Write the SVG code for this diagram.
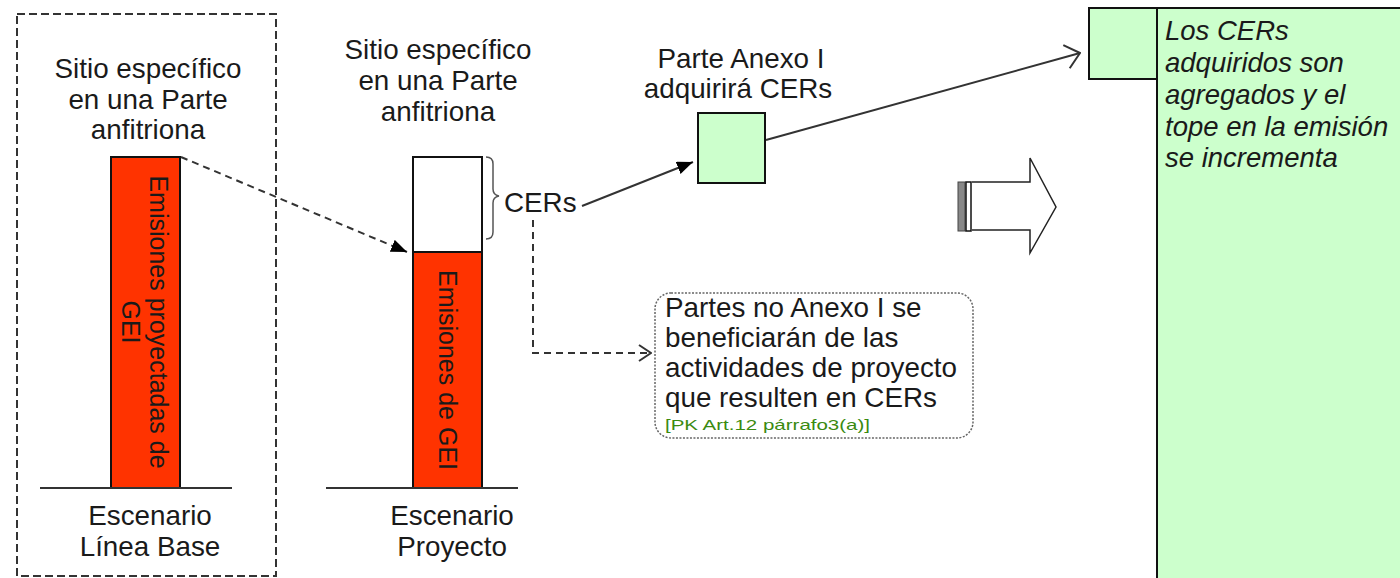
<svg xmlns="http://www.w3.org/2000/svg" width="1400" height="578" viewBox="0 0 1400 578">
<style>
text{font-family:"Liberation Sans",Arial,sans-serif;fill:#1a1a1a}
.big{font-size:27.8px}
.mid{text-anchor:middle}
.vert{font-size:25px;text-anchor:middle}
.red{fill:#ff3300;stroke:#111;stroke-width:2}
.green{fill:#ccffcc;stroke:#111;stroke-width:2}
.base{stroke:#333;stroke-width:2}
.dash{fill:none;stroke:#333;stroke-width:2;stroke-dasharray:7,5}
.solid{fill:none;stroke:#333;stroke-width:2}
.ital{font-size:27.5px;font-style:italic}
</style>
<defs>
<marker id="ahFill" viewBox="0 0 16 13" refX="16" refY="6.5" markerWidth="16" markerHeight="13" markerUnits="userSpaceOnUse" orient="auto"><path d="M0,0 L16,6.5 L0,13 Z" fill="#000"/></marker>
<marker id="ahOpen" viewBox="0 0 16 26" refX="15" refY="13" markerWidth="16" markerHeight="26" markerUnits="userSpaceOnUse" orient="auto"><path d="M1,1 L15,13 L1,25" fill="none" stroke="#333" stroke-width="2"/></marker>
<marker id="ahOpenS" viewBox="0 0 14 18" refX="13" refY="9" markerWidth="14" markerHeight="18" markerUnits="userSpaceOnUse" orient="auto"><path d="M1,1 L13,9 L1,17" fill="none" stroke="#333" stroke-width="2"/></marker>
</defs>

<g id="baseline-scenario">
<rect x="17" y="14" width="259" height="562" fill="none" stroke="#333" stroke-width="2" stroke-dasharray="8,4"/>
<text class="big mid" x="148" y="78">Sitio específico</text>
<text class="big mid" x="148" y="109">en una Parte</text>
<text class="big mid" x="148" y="139">anfitriona</text>
<rect class="red" x="111" y="157" width="69" height="331"/>
<g transform="translate(145,322) rotate(90)">
<text class="vert" x="0" y="-5">Emisiones proyectadas de</text>
<text class="vert" x="0" y="23">GEI</text>
</g>
<line class="base" x1="40" y1="488" x2="232" y2="488"/>
<text class="big mid" x="150" y="525">Escenario</text>
<text class="big mid" x="150" y="556">Línea Base</text>
</g>

<g id="project-scenario">
<text class="big mid" x="438" y="59">Sitio específico</text>
<text class="big mid" x="438" y="90">en una Parte</text>
<text class="big mid" x="438" y="121">anfitriona</text>
<rect x="413" y="157" width="69" height="95" fill="#fff" stroke="#111" stroke-width="2"/>
<rect class="red" x="413" y="252" width="69" height="236"/>
<g transform="translate(439,370) rotate(90)">
<text class="vert" x="0" y="0">Emisiones de GEI</text>
</g>
<line class="base" x1="326" y1="488" x2="518" y2="488"/>
<text class="big mid" x="452" y="525">Escenario</text>
<text class="big mid" x="452" y="556">Proyecto</text>
<path d="M486,157 Q493,157 493,164 L493,189 Q493,195 499,196 Q493,197 493,203 L493,232 Q493,239 486,239" fill="none" stroke="#555" stroke-width="1.5"/>
<text class="big" x="504" y="212">CERs</text>
</g>

<g id="annex-party">
<text class="big mid" x="741" y="68">Parte Anexo I</text>
<text class="big mid" x="738" y="98">adquirirá CERs</text>
<rect class="green" x="698" y="113" width="67" height="70"/>
</g>

<g id="non-annex-note">
<rect x="655" y="293" width="318" height="145" rx="16" ry="16" fill="none" stroke="#666" stroke-width="1.5" stroke-dasharray="2,1.5"/>
<text class="big" x="665" y="317">Partes no Anexo I se</text>
<text class="big" x="665" y="347">beneficiarán de las</text>
<text class="big" x="665" y="377">actividades de proyecto</text>
<text class="big" x="665" y="407">que resulten en CERs</text>
<text x="665" y="430" style="font-size:15px;fill:#3a8a10" textLength="205" lengthAdjust="spacingAndGlyphs">[PK Art.12 párrafo3(a)]</text>
</g>

<g id="block-arrow">
<rect x="958" y="182" width="7" height="49" fill="#888" stroke="#444" stroke-width="1"/>
<rect x="966" y="182" width="5" height="49" fill="#fff" stroke="#111" stroke-width="1.5"/>
<path d="M972,182 H1030 V158 L1056,207 L1030,253 V230 H972" fill="#fff" stroke="#222" stroke-width="1.5"/>
</g>

<g id="aggregated-box">
<rect class="green" x="1089" y="8" width="68" height="71"/>
<rect class="green" x="1157" y="8" width="260" height="590"/>
<text class="ital" x="1165" y="40">Los CERs</text>
<text class="ital" x="1165" y="72">adquiridos son</text>
<text class="ital" x="1165" y="104">agregados y el</text>
<text class="ital" x="1165" y="136">tope en la emisión</text>
<text class="ital" x="1165" y="167">se incrementa</text>
</g>

<g id="connectors">
<line class="dash" x1="181" y1="157" x2="407" y2="252" marker-end="url(#ahFill)"/>
<line class="solid" x1="582" y1="206" x2="693" y2="162" marker-end="url(#ahFill)"/>
<line class="solid" x1="766" y1="140" x2="1080" y2="53" marker-end="url(#ahOpen)"/>
<polyline class="dash" points="533,220 533,353 651,353" marker-end="url(#ahOpenS)"/>
</g>
</svg>
